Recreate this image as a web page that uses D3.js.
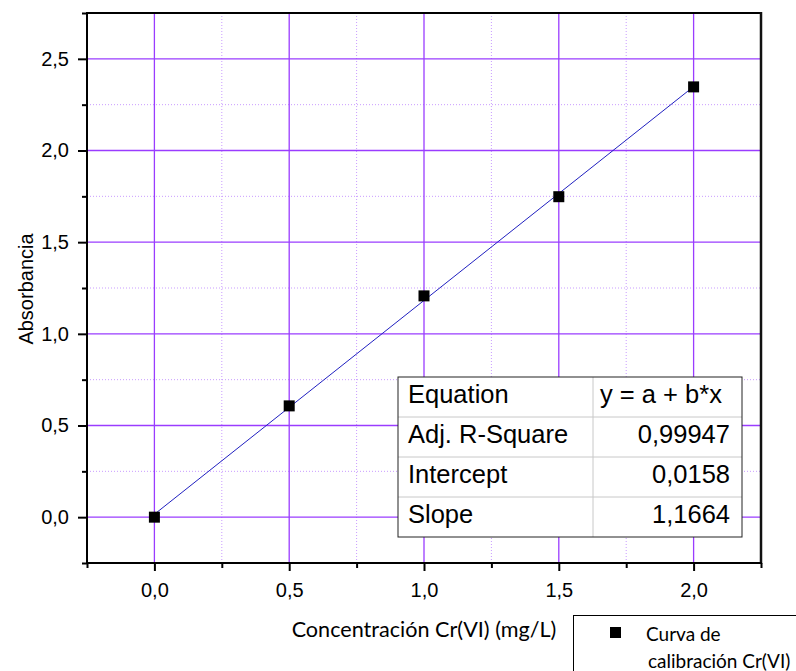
<!DOCTYPE html>
<html>
<head>
<meta charset="utf-8">
<script src="https://cdn.jsdelivr.net/npm/d3@7"></script>
<style>
  body { margin: 0; background: #fff; }
  svg { display: block; }
</style>
</head>
<body>
<svg id="chart" width="796" height="671"></svg>
<script>
// Calibration data: concentration (mg/L) vs absorbance
const concentration = [0.0, 0.5, 1.0, 1.5, 2.0];
const absorbance = [0.0, 0.607, 1.207, 1.748, 2.347];

// Linear fit results
const fitLabels = ["Equation", "Adj. R-Square", "Intercept", "Slope"];
const fitValues = ["y = a + b*x", "0,99947", "0,0158", "1,1664"];
const intercept = 0.0158;
const slope = 1.1664;

const xMajorTicks = [0, 0.5, 1.0, 1.5, 2.0];
const xMinorTicks = [-0.25, 0.25, 0.75, 1.25, 1.75, 2.25];
const yMajorTicks = [0, 0.5, 1.0, 1.5, 2.0, 2.5];
const yMinorTicks = [-0.25, 0.25, 0.75, 1.25, 1.75, 2.25, 2.75];

const xTitle = "Concentración Cr(VI) (mg/L)";
const yTitle = "Absorbancia";
const legendLines = ["Curva de", "calibración Cr(VI)"];

const svg = d3.select("#chart");
const plot = { left: 87, top: 13, right: 761, bottom: 563 };

const x = d3.scaleLinear().domain([-0.25, 2.25]).range([plot.left, plot.right]);
const y = d3.scaleLinear().domain([-0.25, 2.75]).range([plot.bottom, plot.top]);

const fmt = d => d3.format(".1f")(d).replace(".", ",");
const gridMajor = "#9a3cff";
const gridMinor = "#c99cff";
const arial = "'Liberation Sans', Arial, sans-serif";
const humanist = "Lato, 'Open Sans', sans-serif";

// Minor gridlines (dotted)
const g = svg.append("g");
g.selectAll(".vminor").data(xMinorTicks.filter(d => d > -0.25 && d < 2.25)).join("line")
  .attr("x1", d => x(d)).attr("x2", d => x(d))
  .attr("y1", plot.top).attr("y2", plot.bottom)
  .attr("stroke", gridMinor).attr("stroke-width", 1).attr("stroke-dasharray", "1,2");
g.selectAll(".hminor").data(yMinorTicks.filter(d => d > -0.25 && d < 2.75)).join("line")
  .attr("y1", d => y(d)).attr("y2", d => y(d))
  .attr("x1", plot.left).attr("x2", plot.right)
  .attr("stroke", gridMinor).attr("stroke-width", 1).attr("stroke-dasharray", "1,2");

// Major gridlines
g.selectAll(".vmajor").data(xMajorTicks).join("line")
  .attr("x1", d => x(d)).attr("x2", d => x(d))
  .attr("y1", plot.top).attr("y2", plot.bottom)
  .attr("stroke", gridMajor).attr("stroke-width", 1.3);
g.selectAll(".hmajor").data(yMajorTicks).join("line")
  .attr("y1", d => y(d)).attr("y2", d => y(d))
  .attr("x1", plot.left).attr("x2", plot.right)
  .attr("stroke", gridMajor).attr("stroke-width", 1.3);

// Fitted line
svg.append("line")
  .attr("x1", x(0)).attr("y1", y(intercept))
  .attr("x2", x(2)).attr("y2", y(intercept + slope * 2))
  .attr("stroke", "#2020c0").attr("stroke-width", 1);

// Data points
svg.append("g").selectAll("rect").data(concentration).join("rect")
  .attr("x", (d, i) => x(d) - 5.5)
  .attr("y", (d, i) => y(absorbance[i]) - 5.5)
  .attr("width", 11).attr("height", 11)
  .attr("fill", "#000");

// Frame (top and right)
svg.append("line").attr("x1", plot.left).attr("x2", plot.right)
  .attr("y1", plot.top).attr("y2", plot.top).attr("stroke", "#000").attr("stroke-width", 2);
svg.append("line").attr("x1", plot.right).attr("x2", plot.right)
  .attr("y1", plot.top - 1).attr("y2", plot.bottom + 1).attr("stroke", "#111").attr("stroke-width", 2.5);

// Axes
const xAxis = svg.append("g").attr("transform", `translate(0,${plot.bottom})`)
  .call(d3.axisBottom(x).tickValues(xMajorTicks).tickFormat(fmt).tickSize(8).tickPadding(12));
const xMinor = svg.append("g").attr("transform", `translate(0,${plot.bottom})`)
  .call(d3.axisBottom(x).tickValues(xMinorTicks).tickFormat("").tickSize(5));
const yAxis = svg.append("g").attr("transform", `translate(${plot.left},0)`)
  .call(d3.axisLeft(y).tickValues(yMajorTicks).tickFormat(fmt).tickSize(9).tickPadding(9));
const yMinor = svg.append("g").attr("transform", `translate(${plot.left},0)`)
  .call(d3.axisLeft(y).tickValues(yMinorTicks).tickFormat("").tickSize(5));

[xAxis, xMinor, yAxis, yMinor].forEach(a => {
  a.attr("font-family", null).attr("font-size", null);
  a.select(".domain").attr("stroke", "#000").attr("stroke-width", 2);
  a.selectAll(".tick line").attr("stroke", "#000").attr("stroke-width", 2);
  a.selectAll("text")
    .style("font-family", arial).style("font-size", "20px").attr("fill", "#000");
});
xMinor.select(".domain").remove();
yMinor.select(".domain").remove();
xAxis.select(".domain").attr("d", `M${plot.left - 1},0H${plot.right + 1}`);
yAxis.select(".domain").attr("d", `M0,${plot.top - 1}V${plot.bottom + 1}`);

// Axis titles
svg.append("text")
  .attr("x", 424).attr("y", 637)
  .attr("text-anchor", "middle")
  .style("font-family", humanist).style("font-size", "21.6px")
  .attr("fill", "#000")
  .text(xTitle);
svg.append("text")
  .attr("transform", `translate(33,289) rotate(-90)`)
  .attr("text-anchor", "middle")
  .style("font-family", arial).style("font-size", "20px")
  .attr("fill", "#000")
  .text(yTitle);

// Fit results table
const table = { left: 398, top: 377, width: 344, rowH: 40, split: 593 };
const tg = svg.append("g");
tg.append("rect")
  .attr("x", table.left).attr("y", table.top)
  .attr("width", table.width).attr("height", table.rowH * fitLabels.length)
  .attr("fill", "#fff");
tg.selectAll(".rowline").data(d3.range(1, fitLabels.length)).join("line")
  .attr("x1", table.left).attr("x2", table.left + table.width)
  .attr("y1", i => table.top + i * table.rowH).attr("y2", i => table.top + i * table.rowH)
  .attr("stroke", "#c8c8c8").attr("stroke-width", 1);
tg.append("line")
  .attr("x1", table.split).attr("x2", table.split)
  .attr("y1", table.top).attr("y2", table.top + table.rowH * fitLabels.length)
  .attr("stroke", "#c8c8c8").attr("stroke-width", 1);
tg.append("rect")
  .attr("x", table.left).attr("y", table.top)
  .attr("width", table.width).attr("height", table.rowH * fitLabels.length)
  .attr("fill", "none").attr("stroke", "#222").attr("stroke-width", 1);
tg.selectAll(".lab").data(fitLabels).join("text")
  .attr("x", table.left + 10)
  .attr("y", (d, i) => table.top + i * table.rowH + 26)
  .style("font-family", arial).style("font-size", "25.5px").attr("fill", "#000")
  .text(d => d);
tg.selectAll(".val").data(fitValues).join("text")
  .attr("x", (d, i) => i === 0 ? table.split + 7 : table.left + table.width - 12)
  .attr("text-anchor", (d, i) => i === 0 ? "start" : "end")
  .attr("y", (d, i) => table.top + i * table.rowH + 26)
  .style("font-family", arial).style("font-size", "25.5px").attr("fill", "#000")
  .text(d => d);

// Legend
const lg = svg.append("g");
lg.append("rect")
  .attr("x", 573.5).attr("y", 615.5).attr("width", 240).attr("height", 80)
  .attr("fill", "#fff").attr("stroke", "#000").attr("stroke-width", 1);
lg.append("rect")
  .attr("x", 610).attr("y", 627).attr("width", 11).attr("height", 11).attr("fill", "#000");
lg.selectAll("text").data(legendLines).join("text")
  .attr("x", (d, i) => i === 0 ? 646 : 648)
  .attr("y", (d, i) => 641 + i * 27)
  .style("font-family", humanist).style("font-size", "19px")
  .attr("fill", "#000")
  .text(d => d);
</script>
</body>
</html>
